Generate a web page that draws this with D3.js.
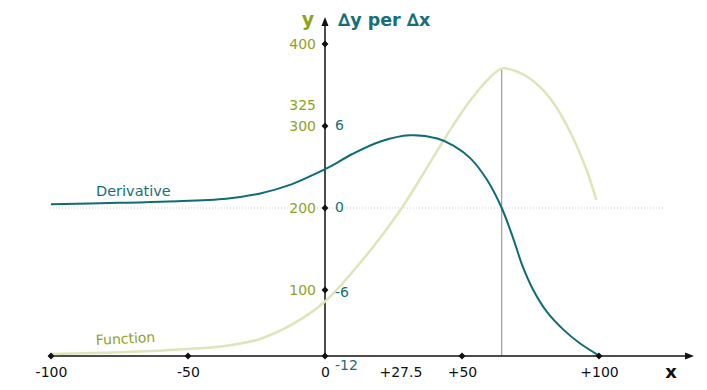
<!DOCTYPE html>
<html>
<head>
<meta charset="utf-8">
<script src="https://cdn.jsdelivr.net/npm/d3@7"></script>
<style>
	body { margin: 0; background: #fff; }
	text { font-family: "DejaVu Sans", Verdana, sans-serif; }
</style>
</head>
<body>
<div id="chart"></div>
<script>
// values
var funcX = [-100, -75, -50, -36, -24, -12, 0, 10, 20, 28, 35, 41, 47, 53, 59, 64.5, 71, 77, 83, 89, 95.5, 99];
var funcY = [22, 24, 28, 32, 40, 58, 86, 122, 163, 200, 237, 270, 302, 331, 355, 370, 365, 352, 330, 296, 246, 210];
var derivX = [-100, -75, -57, -36, -24, -12, -3, 2, 10, 20, 31, 41, 47, 53, 59, 64.5, 69, 72, 76, 81, 87, 93, 100];
var derivY = [0.28, 0.38, 0.48, 0.68, 1.05, 1.75, 2.55, 3.05, 3.95, 4.85, 5.32, 5.08, 4.55, 3.65, 2.1, 0, -2.4, -4.2, -6.0, -7.6, -8.9, -9.9, -10.8];
var xTicks = [-100, -50, 0, 27.5, 50, 100];
var xDots = [-100, -50, 0, 50, 100];
var funcTicks = [100, 200, 300, 325, 400];
var funcDots = [100, 200, 300, 400];
var derivTicks = [-12, -6, 0, 6];

var width = 707, height = 390;
var axisY = 356;
var olive = "#8ca41c", teal = "#156e78";

const svg = d3.select("#chart").append("svg")
	.attr("width", width)
	.attr("height", height);

var x = d3.scaleLinear().domain([-100, 100]).range([51, 599]);
var yF = d3.scaleLinear().domain([0, 400]).range([372, 44]);
var yD = d3.scaleLinear().domain([-12, 6]).range([372, 126]);
var x0 = x(0);

var funcData = funcX.map((d, i) => [d, funcY[i]]);
var derivData = derivX.map((d, i) => [d, derivY[i]]);

// zero line of the derivative
svg.append("line")
	.attr("x1", 50).attr("x2", 665)
	.attr("y1", yD(0)).attr("y2", yD(0))
	.attr("stroke", "#cfcfcf")
	.attr("stroke-dasharray", "1,2");

// vertical line at the maximum
var peak = funcData[d3.maxIndex(funcData, d => d[1])];
svg.append("line")
	.attr("x1", x(peak[0])).attr("x2", x(peak[0]))
	.attr("y1", yF(peak[1])).attr("y2", axisY)
	.attr("stroke", "#8a8a8a")
	.attr("stroke-width", 1);

// axes lines with arrows
svg.append("line")
	.attr("x1", x(-100)).attr("x2", 690)
	.attr("y1", axisY).attr("y2", axisY)
	.attr("stroke", "#111").attr("stroke-width", 1.5);
svg.append("path")
	.attr("d", "M 694 " + axisY + " l -9 -3.5 l 0 7 z")
	.attr("fill", "#111");
svg.append("line")
	.attr("x1", x0).attr("x2", x0)
	.attr("y1", axisY).attr("y2", 22)
	.attr("stroke", "#111").attr("stroke-width", 1.5);
svg.append("path")
	.attr("d", "M " + x0 + " 17 l -3.5 9 l 7 0 z")
	.attr("fill", "#111");

// curves
const line = d3.line().curve(d3.curveCatmullRom.alpha(0.5));
svg.append("path")
	.attr("d", line.x(d => x(d[0])).y(d => yF(d[1]))(funcData))
	.attr("fill", "none")
	.attr("stroke", "#dfe4b9")
	.attr("stroke-width", 2.5);
svg.append("path")
	.attr("d", line.x(d => x(d[0])).y(d => yD(d[1]))(derivData))
	.attr("fill", "none")
	.attr("stroke", "#0d6c74")
	.attr("stroke-width", 2);

// x axis labels
var fmt = d => d > 0 ? "+" + d : String(d);
const xAxis = svg.append("g")
	.attr("transform", "translate(0," + axisY + ")")
	.call(d3.axisBottom(x).tickValues(xTicks).tickFormat(fmt).tickSize(0).tickPadding(11));
xAxis.select(".domain").remove();
xAxis.selectAll("text").attr("font-size", 14).attr("fill", "#111").style("font-family", "DejaVu Sans");

// left axis (function)
const fAxis = svg.append("g")
	.attr("transform", "translate(" + x0 + ",0)")
	.call(d3.axisLeft(yF).tickValues(funcTicks).tickFormat(String).tickSize(0).tickPadding(9));
fAxis.select(".domain").remove();
fAxis.selectAll("text").attr("font-size", 14).attr("fill", olive).style("font-family", "DejaVu Sans");

// right axis (derivative)
const dAxis = svg.append("g")
	.attr("transform", "translate(" + x0 + ",0)")
	.call(d3.axisRight(yD).tickValues(derivTicks).tickFormat(String).tickSize(0).tickPadding(10));
dAxis.select(".domain").remove();
dAxis.selectAll(".tick")
	.attr("transform", d => "translate(0," + (d == -12 ? axisY + 10 : d == -6 ? yD(d) + 3 : yD(d)) + ")");
dAxis.selectAll("text").attr("font-size", 14).attr("fill", teal).style("font-family", "DejaVu Sans");

// diamond tick marks
const diamond = d3.symbol(d3.symbolSquare).size(24);
svg.append("g").selectAll("path.xd")
	.data(xDots).enter().append("path")
	.attr("d", diamond)
	.attr("transform", d => "translate(" + x(d) + "," + axisY + ") rotate(45)")
	.attr("fill", "#111");
svg.append("g").selectAll("path.yd")
	.data(funcDots).enter().append("path")
	.attr("d", diamond)
	.attr("transform", d => "translate(" + x0 + "," + yF(d) + ") rotate(45)")
	.attr("fill", "#111");

// axis titles
svg.append("text")
	.attr("x", 308).attr("y", 26)
	.attr("text-anchor", "middle")
	.attr("font-size", 19).attr("font-weight", "bold")
	.attr("fill", olive)
	.text("y");
svg.append("text")
	.attr("x", 338).attr("y", 26)
	.attr("font-size", 17.5).attr("font-weight", "bold")
	.attr("fill", teal)
	.text("∆y per ∆x");
svg.append("text")
	.attr("x", 671).attr("y", 378)
	.attr("text-anchor", "middle")
	.attr("font-size", 18).attr("font-weight", "bold")
	.attr("fill", "#111")
	.text("x");

// curve labels
svg.append("text")
	.attr("x", 96).attr("y", 196)
	.attr("font-size", 14.5)
	.attr("fill", teal)
	.text("Derivative");
svg.append("text")
	.attr("transform", "translate(96,345) rotate(-3)")
	.attr("font-size", 14)
	.attr("fill", olive)
	.text("Function");
</script>
</body>
</html>
